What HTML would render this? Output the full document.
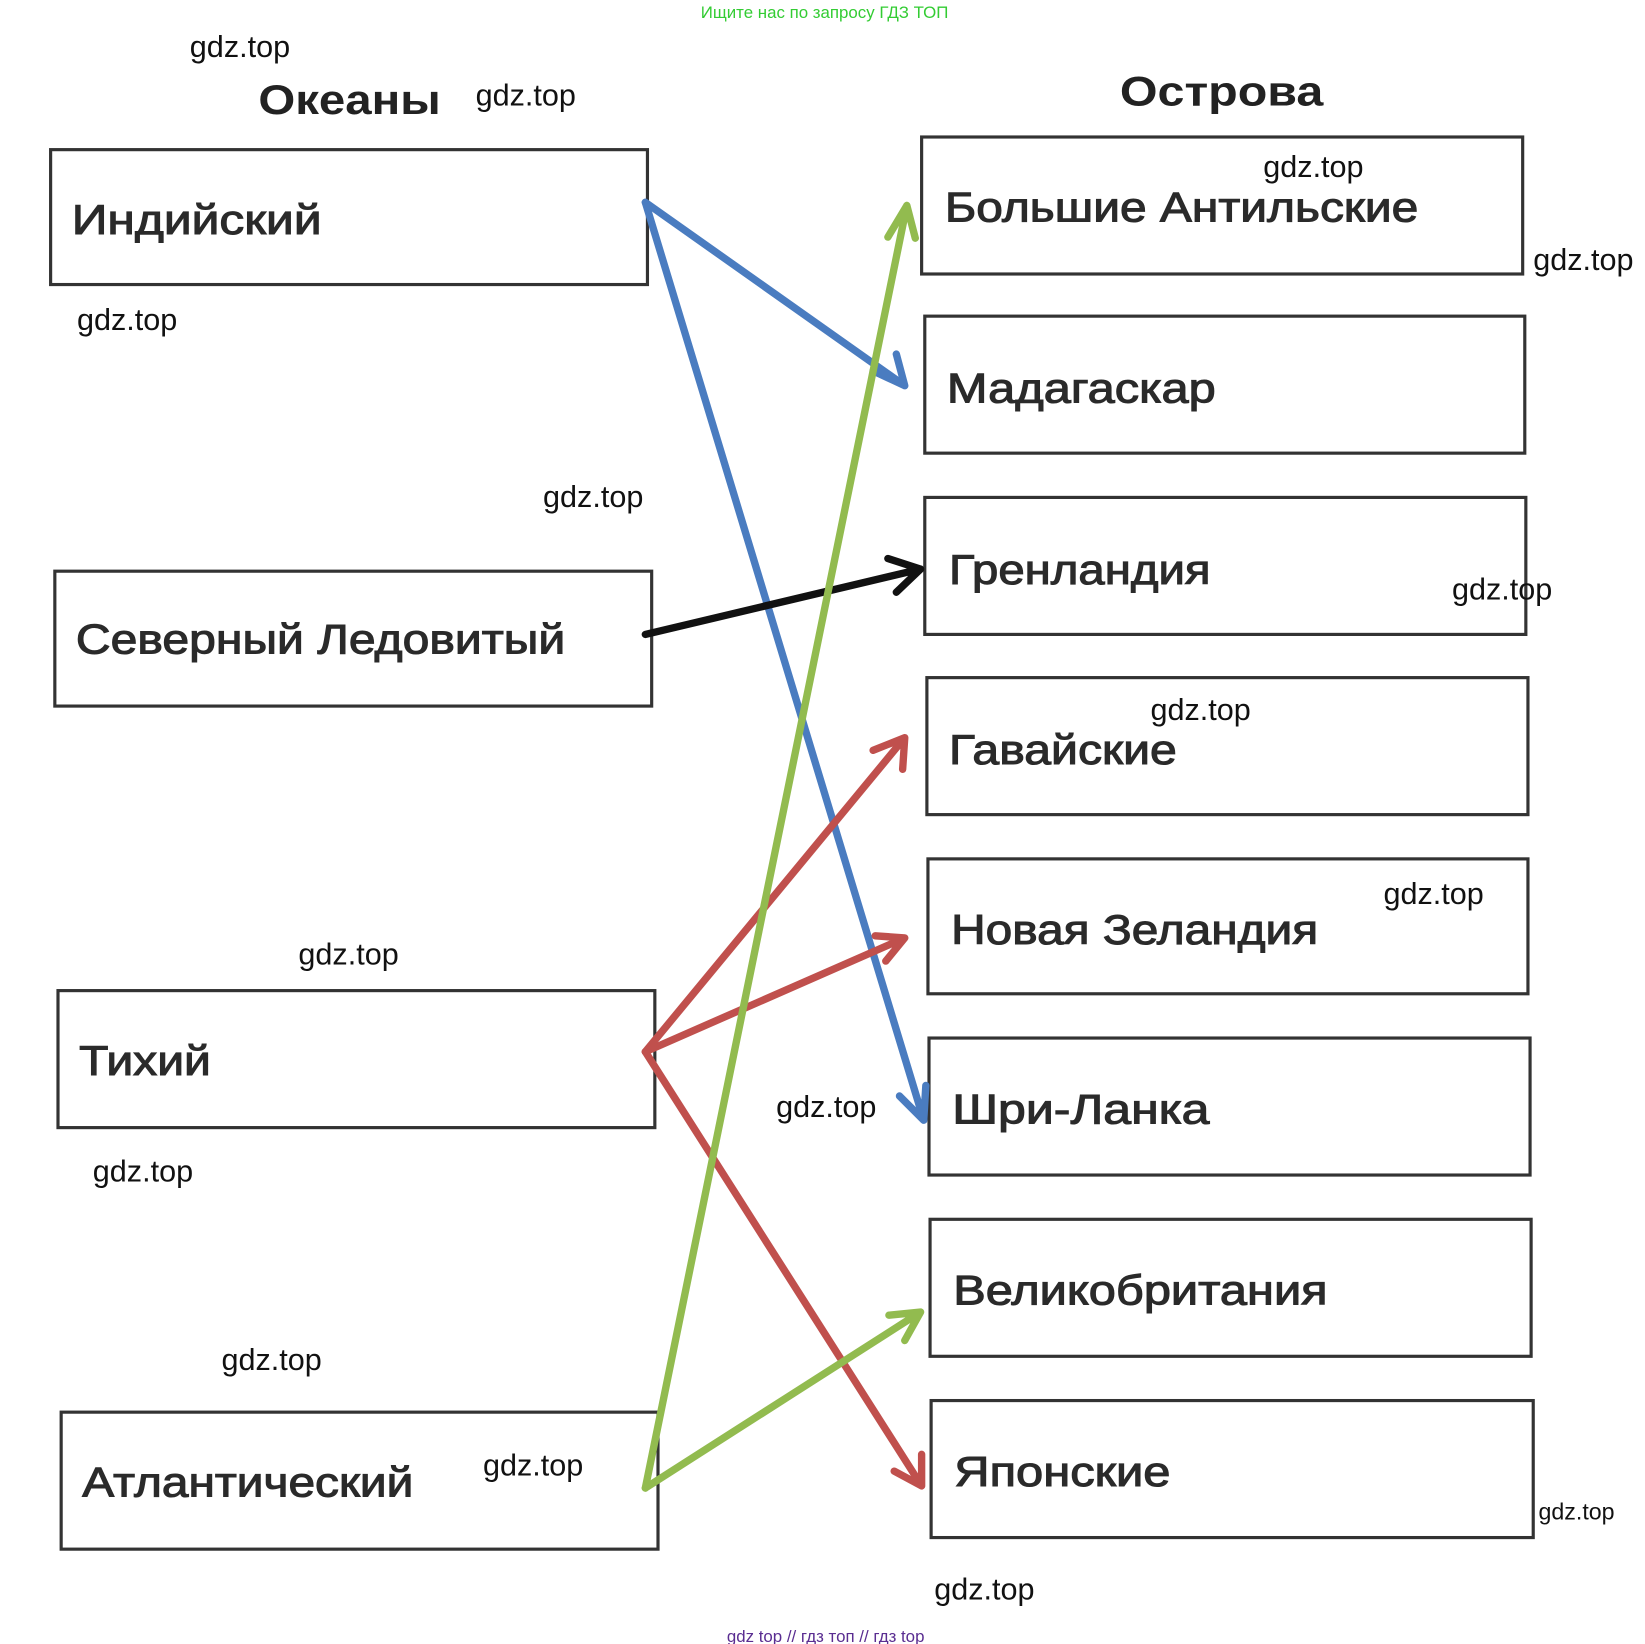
<!DOCTYPE html>
<html><head><meta charset="utf-8"><style>
html,body{margin:0;padding:0;background:#fff}
svg{display:block}
text{font-family:"Liberation Sans","DejaVu Sans",sans-serif}
</style></head><body>
<svg width="1645" height="1644" viewBox="0 0 1560 1560" preserveAspectRatio="none" xmlns="http://www.w3.org/2000/svg">
<rect width="1560" height="1560" fill="#fff"/>
<text x="782" y="17" font-size="16" fill="#3c3" text-anchor="middle">Ищите нас по запросу ГДЗ ТОП</text>
<text x="245" y="108" font-size="40" font-weight="bold" fill="#222" textLength="173" lengthAdjust="spacingAndGlyphs">Океаны</text>
<text x="1062" y="100" font-size="40" font-weight="bold" fill="#222" textLength="193" lengthAdjust="spacingAndGlyphs">Острова</text>
<g fill="none" stroke="#333" stroke-width="3">
<rect x="48" y="142" width="566" height="128"/>
<rect x="52" y="542" width="566" height="128"/>
<rect x="55" y="940" width="566" height="130"/>
<rect x="58" y="1340" width="566" height="130"/>
<rect x="874" y="130" width="570" height="130"/>
<rect x="877" y="300" width="569" height="130"/>
<rect x="877" y="472" width="570" height="130"/>
<rect x="879" y="643" width="570" height="130"/>
<rect x="880" y="815" width="569" height="128"/>
<rect x="881" y="985" width="570" height="130"/>
<rect x="882" y="1157" width="570" height="130"/>
<rect x="883" y="1329" width="571" height="130"/>
</g>
<g font-size="40" fill="#2a2a2a" stroke="#2a2a2a" stroke-width="1" lengthAdjust="spacingAndGlyphs">
<text x="68" y="222" textLength="237" lengthAdjust="spacingAndGlyphs">Индийский</text>
<text x="72" y="620" textLength="464" lengthAdjust="spacingAndGlyphs">Северный Ледовитый</text>
<text x="75" y="1020" textLength="125" lengthAdjust="spacingAndGlyphs">Тихий</text>
<text x="78" y="1420" textLength="314" lengthAdjust="spacingAndGlyphs">Атлантический</text>
<text x="896" y="210" textLength="449" lengthAdjust="spacingAndGlyphs">Большие Антильские</text>
<text x="898" y="382" textLength="255" lengthAdjust="spacingAndGlyphs">Мадагаскар</text>
<text x="900" y="554" textLength="248" lengthAdjust="spacingAndGlyphs">Гренландия</text>
<text x="900" y="725" textLength="216" lengthAdjust="spacingAndGlyphs">Гавайские</text>
<text x="902" y="896" textLength="348" lengthAdjust="spacingAndGlyphs">Новая Зеландия</text>
<text x="903" y="1066" textLength="244" lengthAdjust="spacingAndGlyphs">Шри-Ланка</text>
<text x="904" y="1238" textLength="355" lengthAdjust="spacingAndGlyphs">Великобритания</text>
<text x="905" y="1410" textLength="205" lengthAdjust="spacingAndGlyphs">Японские</text>
</g>
<g fill="none" stroke-width="7" stroke-linecap="round" stroke-linejoin="round">
<g stroke="#4a7cc0">
<path d="M612 192 L858 366 M828 352 L858 366 L850 336"/>
<path d="M612 192 L876 1063 M853 1040 L876 1063 L878 1030"/>
</g>
<g stroke="#111">
<path d="M612 602 L873 540 M842 530 L873 540 L850 562"/>
</g>
<g stroke="#c0504d">
<path d="M612 998 L858 700 M828 712 L858 700 L856 730"/>
<path d="M612 998 L858 890 M830 888 L858 890 L840 912"/>
<path d="M612 998 L874 1410 M848 1396 L874 1410 L874 1380"/>
</g>
<g stroke="#92bb4f">
<path d="M612 1412 L860 195 M842 225 L860 195 L868 226"/>
<path d="M612 1412 L873 1245 M843 1248 L873 1245 L858 1272"/>
</g>
</g>
<g font-size="29" fill="#111">
<text x="180" y="54">gdz.top</text>
<text x="451" y="100">gdz.top</text>
<text x="1198" y="168">gdz.top</text>
<text x="1454" y="256">gdz.top</text>
<text x="73" y="313">gdz.top</text>
<text x="515" y="481">gdz.top</text>
<text x="1377" y="569">gdz.top</text>
<text x="1091" y="683">gdz.top</text>
<text x="1312" y="858">gdz.top</text>
<text x="283" y="915">gdz.top</text>
<text x="736" y="1060">gdz.top</text>
<text x="88" y="1121">gdz.top</text>
<text x="210" y="1300">gdz.top</text>
<text x="458" y="1400">gdz.top</text>
<text x="886" y="1518">gdz.top</text>
</g>
<text x="1459" y="1442" font-size="22" fill="#111">gdz.top</text>
<text x="783" y="1558" font-size="16" fill="#5a2d91" text-anchor="middle">gdz top  //  гдз топ  //  гдз top</text>
</svg>
</body></html>
